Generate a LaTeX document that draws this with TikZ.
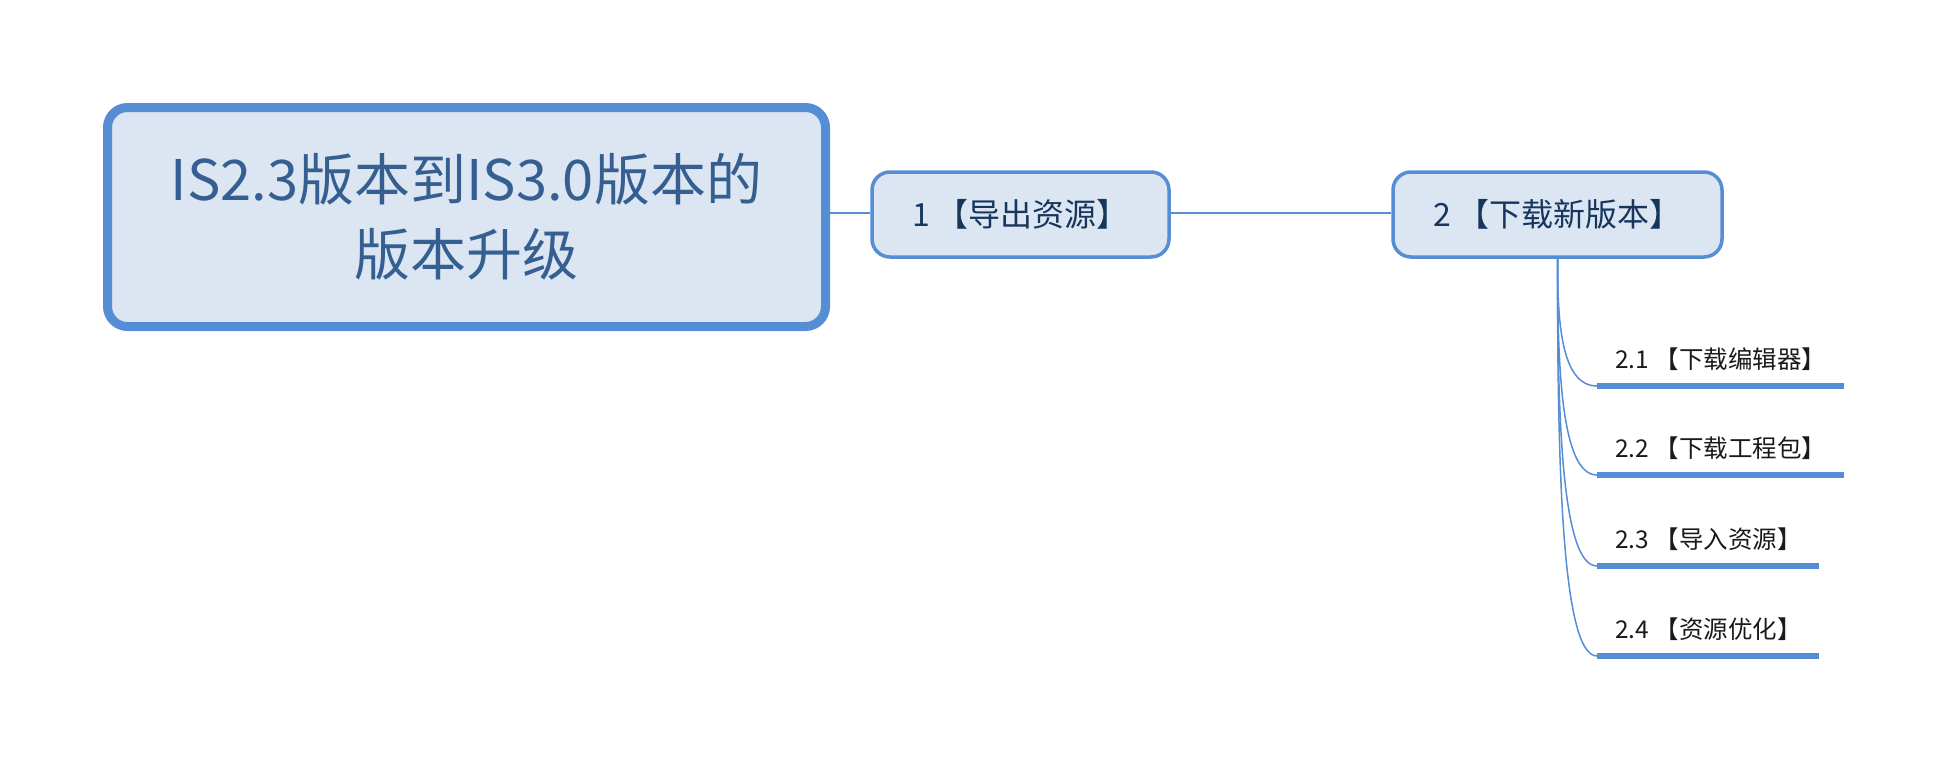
\documentclass[tikz,border=0pt]{standalone}
\usepackage{fontspec}
\setmainfont{Noto Sans CJK SC}
\definecolor{bordblue}{HTML}{558ED5}
\definecolor{fillblue}{HTML}{DCE6F2}
\definecolor{maintext}{HTML}{365F91}
\definecolor{nodetext}{HTML}{17365D}
\definecolor{subtext}{HTML}{1A1A1A}
\tikzset{
  mainbox/.style={draw=bordblue, fill=fillblue, line width=9pt, rounded corners=20pt,
    minimum width=718pt, minimum height=219pt, align=center, text=maintext,
    font=\fontsize{56pt}{75pt}\selectfont, inner sep=0pt},
  topicbox/.style={draw=bordblue, fill=fillblue, line width=3.5pt, rounded corners=18pt,
    minimum height=85pt, text=nodetext, font=\fontsize{32pt}{38pt}\selectfont, inner sep=0pt},
  subitem/.style={text=subtext, font=\fontsize{24.5pt}{29pt}\selectfont, inner sep=0pt, anchor=base west},
  conn/.style={draw=bordblue, line width=2pt},
  branch/.style={draw=bordblue, line width=1.5pt},
  uline/.style={draw=bordblue, line width=6pt}
}
\begin{document}
\begin{tikzpicture}[x=1pt,y=-1pt]
\useasboundingbox (0,0) rectangle (1944,760);
\node[mainbox] (root) at (466.5,217) {IS2.3版本到IS3.0版本的\\版本升级};
\node[topicbox, minimum width=297pt] (n1) at (1020.5,214.5) {1 【导出资源】};
\node[topicbox, minimum width=329pt] (n2) at (1557.5,214.5) {2 【下载新版本】};
\draw[conn] (root.east |- 0,213) -- (n1.west |- 0,213);
\draw[conn] (n1.east |- 0,213) -- (n2.west |- 0,213);

\node[subitem] (t1) at (1615,368) {2.1 【下载编辑器】};
\node[subitem] (t2) at (1615,457) {2.2 【下载工程包】};
\node[subitem] (t3) at (1615,548) {2.3 【导入资源】};
\node[subitem] (t4) at (1615,638) {2.4 【资源优化】};

\coordinate (u1) at (1597,386); \coordinate (e1) at (1844,386);
\coordinate (u2) at (1597,475); \coordinate (e2) at (1844,475);
\coordinate (u3) at (1597,566); \coordinate (e3) at (1819,566);
\coordinate (u4) at (1597,656); \coordinate (e4) at (1819,656);

\draw[branch] (n2.south) .. controls (1557.5,322) and (1561,386) .. (u1);
\draw[branch] (n2.south) .. controls (1557.5,367) and (1561,475) .. (u2);
\draw[branch] (n2.south) .. controls (1557.5,412) and (1561,566) .. (u3);
\draw[branch] (n2.south) .. controls (1557.5,457) and (1561,656) .. (u4);

\draw[uline] (u1) -- (e1);
\draw[uline] (u2) -- (e2);
\draw[uline] (u3) -- (e3);
\draw[uline] (u4) -- (e4);
\end{tikzpicture}
\end{document}
